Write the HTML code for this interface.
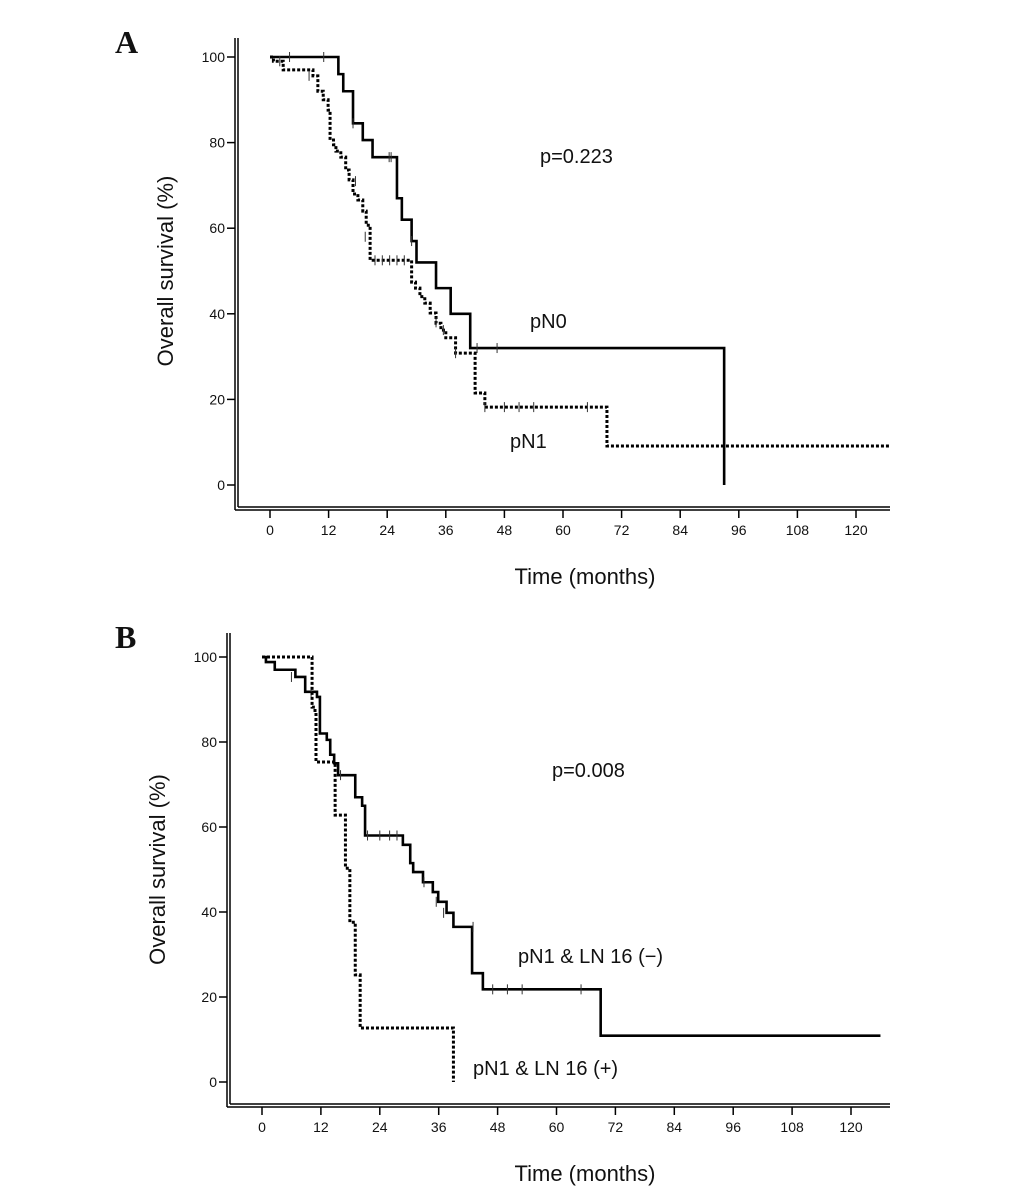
<!DOCTYPE html>
<html><head><meta charset="utf-8"><style>
body{margin:0;background:#fff;width:1033px;height:1198px;overflow:hidden}
svg text{font-family:"Liberation Sans",sans-serif;fill:#111}
</style></head><body>
<svg id="c" width="1033" height="1198"></svg>
<script>
const xTicks=[0,12,24,36,48,60,72,84,96,108,120];
const yTicks=[0,20,40,60,80,100];
const aPN0T=[0,14,15,17,19,21,26,27,29,30,34,37,41,93,93];
const aPN0S=[100,96,92,84.5,80.6,76.6,67,62,57,52,46,40,32,32,0];
const aPN0Cens=[[4,100],[11,100],[17,84.5],[24.4,76.6],[24.8,76.6],[29,57],[42.4,32],[46.5,32]];
const aPN1T=[0,0.7,2.7,8.8,9.8,10.9,11.9,12.3,13,13.5,14.5,15.5,16.2,17,18,19,19.7,20.5,29,29.8,30.7,31.7,32.8,34,35,36,38,42,44,69];
const aPN1S=[100,99,97,95.6,92,90,87.6,80.6,79.5,78,76.6,73.6,71.3,68,66.6,64,60.7,52.5,47.4,46,44,42.5,40.2,37.8,36.2,34.4,30.8,21.5,18.2,9.1];
const aPN1Cens=[[2,99],[8,95.6],[17.5,71],[19.5,58],[21.5,52.5],[23,52.5],[24.5,52.5],[26,52.5],[27.5,52.5],[34,38],[35.5,36.2],[38,30.8],[44,18.2],[48,18.2],[51,18.2],[54,18.2],[65,18.2]];
const bNegT=[0,0.8,2.6,6.8,8.8,11.2,11.8,13.2,13.9,14.7,15.5,19,20.4,21,28.7,30.2,30.8,32.8,34.8,35.9,37.6,39,42.8,45,69];
const bNegS=[100,98.8,97,95.3,91.8,90.6,82,80.5,77,75,72.2,67,65,58,55.8,51.5,49.4,47,44.7,42.4,39.8,36.5,25.6,21.8,10.9];
const bNegCens=[[6,95.3],[10,91.8],[16,72.2],[21.5,58],[24,58],[26,58],[27.5,58],[33,47],[35.5,42.4],[37,39.8],[43,36.5],[47,21.8],[50,21.8],[53,21.8],[65,21.8]];
const bPosT=[0,10.2,10.8,11,14.9,17,17.9,19,20,39,39];
const bPosS=[100,88.2,87,75.3,62.8,50.3,37.6,25.2,12.7,12.7,0];

const svg=document.getElementById('c');const NS='http://www.w3.org/2000/svg';
function mk(tag,at,parent){const e=document.createElementNS(NS,tag);for(const k in at)e.setAttribute(k,at[k]);(parent||svg).appendChild(e);return e;}
function panel(p){
  const g=mk('g',{});
  
  
  const X=t=>p.x0+t*(p.x120-p.x0)/120, Y=s=>p.y0+(p.y100-p.y0)*s/100;
  mk('line',{x1:p.ax,y1:p.top,x2:p.ax,y2:p.by+3,stroke:'#000','stroke-width':1.5},g);
  mk('line',{x1:p.ax+3,y1:p.top,x2:p.ax+3,y2:p.by,stroke:'#000','stroke-width':1.5},g);
  mk('line',{x1:p.ax,y1:p.by+3,x2:890,y2:p.by+3,stroke:'#000','stroke-width':1.5},g);
  mk('line',{x1:p.ax+3,y1:p.by,x2:890,y2:p.by,stroke:'#000','stroke-width':1.5},g);
  for(const v of yTicks){mk('line',{x1:p.ax-8,y1:Y(v),x2:p.ax,y2:Y(v),stroke:'#000','stroke-width':1.5},g);
    const t=mk('text',{x:p.ax-10,y:Y(v)+5,'text-anchor':'end','font-size':14},g);t.textContent=v;
    
    }
  for(const v of xTicks){mk('line',{x1:X(v),y1:p.by+3,x2:X(v),y2:p.by+11,stroke:'#000','stroke-width':1.5},g);
    const t=mk('text',{x:X(v),y:p.by+28,'text-anchor':'middle','font-size':14},g);t.textContent=v;
    
    }
  const yt=mk('text',{x:0,y:0,'font-size':22,'text-anchor':'middle',transform:`translate(${p.ax-62},${(Y(0)+Y(100))/2}) rotate(-90)`},g);yt.textContent='Overall survival (%)';
  
  
  const xt=mk('text',{x:585,y:p.by+77,'font-size':22,'text-anchor':'middle'},g);xt.textContent='Time (months)';
  
  
  const lt=mk('text',{x:115,y:p.top+15,'font-size':32,'font-weight':'bold'},g);lt.textContent=p.letter;
  lt.style.fontFamily='"Liberation Serif",serif';
  
  
  const pv=mk('text',{x:p.px,y:p.py,'font-size':20},g);pv.textContent=p.pval;
  
  
  for(const s of p.series){
    let d=`M${X(s.T[0])},${Y(s.S[0])}`;
    for(let i=1;i<s.T.length;i++){d+=` H${X(s.T[i])} V${Y(s.S[i])}`;}
    if(s.end!==undefined)d+=` H${X(s.end)}`;
    const path=mk('path',{d,fill:'none',stroke:'#000','stroke-width':s.dash?3:2.6,'stroke-dasharray':s.dash?'3,2':'none'},g);
    
    
    for(const c of (s.C||[])){mk('line',{x1:X(c[0]),y1:Y(c[1])-5,x2:X(c[0]),y2:Y(c[1])+5,stroke:'#333','stroke-width':1},g);}
    const lb=mk('text',{x:s.lx,y:s.ly,'font-size':20},g);lb.textContent=s.label;
    
    
  }
}
panel({name:'panel-a',letter:'A',ax:235,top:38,by:507,x0:270,x120:856,y0:485,y100:57,px:540,py:163,pval:'p=0.223',
  series:[{name:'pn0-curve',T:aPN0T,S:aPN0S,C:aPN0Cens,label:'pN0',lx:530,ly:328},
          {name:'pn1-curve',T:aPN1T,S:aPN1S,C:aPN1Cens,dash:true,end:127,label:'pN1',lx:510,ly:448}]});
panel({name:'panel-b',letter:'B',ax:227,top:633,by:1104,x0:262,x120:851,y0:1082,y100:657,px:552,py:777,pval:'p=0.008',
  series:[{name:'pn1-ln16-neg-curve',T:bNegT,S:bNegS,C:bNegCens,end:126,label:'pN1 & LN 16 (−)',lx:518,ly:963},
          {name:'pn1-ln16-pos-curve',T:bPosT,S:bPosS,dash:true,label:'pN1 & LN 16 (+)',lx:473,ly:1075}]});
</script></body></html>
